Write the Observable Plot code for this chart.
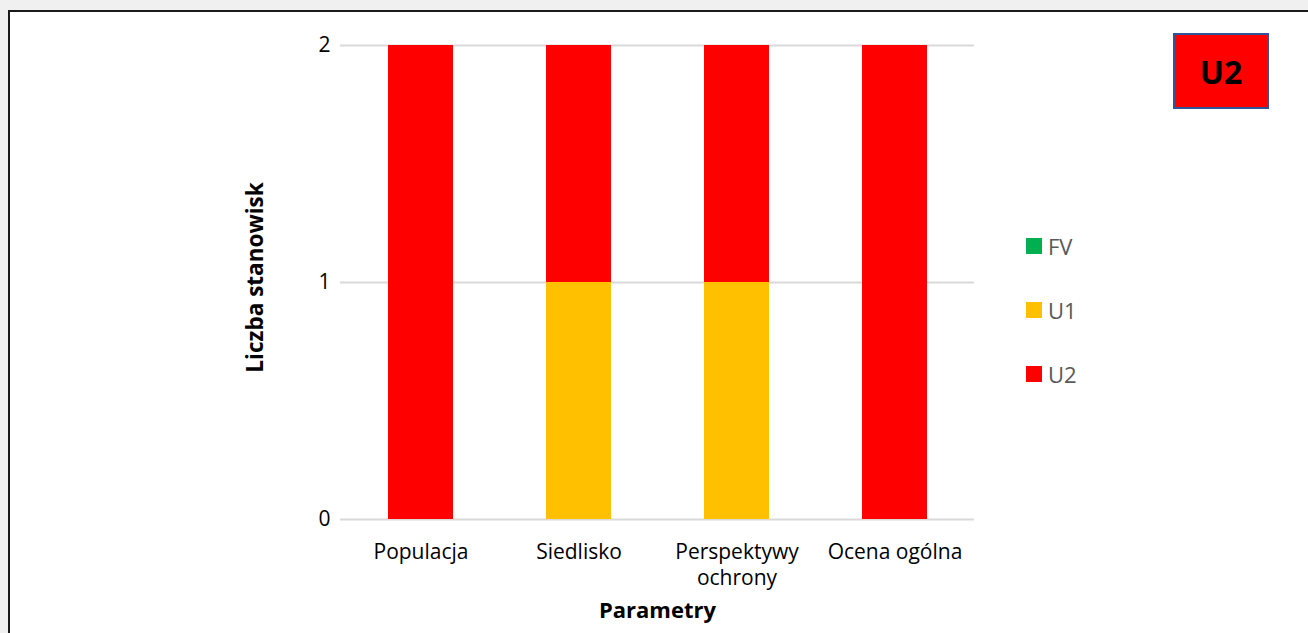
<!DOCTYPE html>
<html>
<head>
<meta charset="utf-8">
<script src="https://cdn.jsdelivr.net/npm/d3@7"></script>
<script src="https://cdn.jsdelivr.net/npm/@observablehq/plot@0.6"></script>
<style>
  html, body { margin: 0; padding: 0; background: #f0f0f0; width: 1308px; height: 633px; overflow: hidden; }
  #frame { position: absolute; left: 8px; top: 10px; right: -10px; bottom: -10px; background: #fff;
           border-left: 2px solid #1a1a1a; border-top: 2px solid #1a1a1a; }
  #chart { position: absolute; left: 0; top: 0; }
  .leg { position: absolute; left: 1026px; font-family: "Open Sans", sans-serif; font-size: 22px; color: #595959; height: 16px; line-height: 16px; }
  .leg span.sw { position: absolute; left: 0; top: 0; width: 16px; height: 16px; }
  .leg span.lab { position: absolute; left: 22px; top: 0; white-space: nowrap; }
  #badge { position: absolute; left: 1173px; top: 33px; width: 92px; height: 72px; background: #ff0000;
           border: 2px solid #2f5597; font-family: "Open Sans", sans-serif; font-weight: bold; font-size: 32px;
           display: flex; align-items: center; justify-content: center; color: #000; }
</style>
</head>
<body>
<div id="frame"></div>
<div id="chart"></div>
<div id="legend"></div>
<div id="badge">U2</div>
<script>
const categories = ["Populacja", "Siedlisko", "Perspektywy\nochrony", "Ocena ogólna"];
const series = ["FV", "U1", "U2"];
const fvValues = [0, 0, 0, 0];
const u1Values = [0, 1, 1, 0];
const u2Values = [2, 1, 1, 2];
const seriesColors = ["#00b050", "#ffc000", "#ff0000"];
const yTicks = [0, 1, 2];
const yLabel = "Liczba stanowisk";
const xLabel = "Parametry";

const valuesBySeries = [fvValues, u1Values, u2Values];
const data = series.flatMap((s, j) => categories.map((c, i) => ({category: c, series: s, value: valuesBySeries[j][i]})));

const chart = Plot.plot({
  width: 1308, height: 633,
  marginLeft: 340, marginRight: 334, marginTop: 45, marginBottom: 114,
  style: {background: "transparent", fontFamily: "'Open Sans', sans-serif", fontSize: "21px", color: "#000"},
  x: {domain: categories, paddingInner: 0.59, paddingOuter: 0.295, label: null},
  y: {domain: [0, 2], ticks: yTicks, label: null},
  color: {domain: series, range: seriesColors},
  marks: [
    Plot.gridY(yTicks, {stroke: "#d9d9d9", strokeOpacity: 1, strokeWidth: 2}),
    Plot.barY(data, {x: "category", y: "value", fill: "series"}),
    Plot.axisY(yTicks, {tickSize: 0, tickPadding: 10, fontSize: 21, tickFormat: d => String(d), label: null}),
    Plot.axisX({tickSize: 0, tickPadding: 21, lineHeight: 1.25, fontSize: 21, label: null}),
    Plot.text([yLabel], {frameAnchor: "left", dx: -85, dy: -5, rotate: -90, textAnchor: "middle", lineAnchor: "middle", fontWeight: "bold", fontSize: 22.5}),
    Plot.text([xLabel], {frameAnchor: "bottom", dy: 91, textAnchor: "middle", lineAnchor: "middle", fontWeight: "bold", fontSize: 22})
  ]
});
document.getElementById("chart").appendChild(chart);

const legend = document.getElementById("legend");
series.forEach((s, j) => {
  const row = document.createElement("div");
  row.className = "leg";
  row.style.top = (238 + j * 64) + "px";
  row.innerHTML = `<span class="sw" style="background:${seriesColors[j]}"></span><span class="lab">${s}</span>`;
  legend.appendChild(row);
});
</script>
</body>
</html>
